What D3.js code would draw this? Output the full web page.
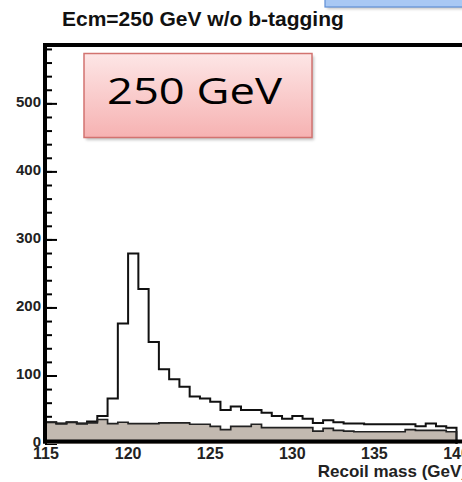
<html>
<script src="https://d3js.org/d3.v7.min.js"></script>
<body style="margin:0; background:#fff;">
<svg width="462" height="482"></svg>
<script>

// recoil mass bins (lower edges, GeV), 0.625 GeV wide
var binLow = d3.range(115, 140, 0.625);
var binWidth = 0.625;

// signal + background (open histogram)
var totalCounts = [32, 30, 32, 30, 33, 41, 67, 177, 280, 228,
                   150, 110, 95, 84, 70, 67, 62, 50, 55, 50,
                   50, 46, 41, 37, 41, 37, 31, 35, 32, 30,
                   30, 29, 29, 29, 29, 29, 26, 30, 26, 24];

// background only (filled histogram)
var backgroundCounts = [32, 30, 32, 30, 31, 36, 30, 32, 30, 30,
                        30, 31, 31, 31, 29, 29, 26, 21, 26, 26,
                        29, 24, 24, 24, 24, 24, 19, 23, 20, 19,
                        18, 18, 18, 18, 18, 21, 20, 20, 20, 18];

var xTickValues = [115, 120, 125, 130, 135, 140];
var yTickValues = [0, 100, 200, 300, 400, 500];
var yMinorTicks = d3.range(0, 590, 20);

var svg = d3.select('svg');
var x = d3.scaleLinear().domain([115, 140]).range([46, 456.5]);
var y = d3.scaleLinear().domain([0, 588]).range([444, 44]);

var defs = svg.append('defs');
var grad = defs.append('linearGradient').attr('id', 'pink').attr('x1', 0).attr('y1', 0).attr('x2', 0).attr('y2', 1);
grad.append('stop').attr('offset', '0%').attr('stop-color', '#fde6e6');
grad.append('stop').attr('offset', '100%').attr('stop-color', '#f6b2b2');
var blur = defs.append('filter').attr('id', 'shadow').attr('x', '-20%').attr('y', '-20%').attr('width', '140%').attr('height', '140%');
blur.append('feGaussianBlur').attr('stdDeviation', 1.5);

// title
svg.append('text')
    .attr('x', 62).attr('y', 26)
    .style('font-family', 'Liberation Sans, Arial, sans-serif')
    .style('font-weight', 'bold')
    .style('font-size', '21px')
    .attr('fill', '#111')
    .text('Ecm=250 GeV w/o b-tagging');

// blue box cut at the top right
svg.append('rect').attr('x', 327).attr('y', -20).attr('width', 150).attr('height', 29)
    .attr('fill', '#888').attr('opacity', 0.5).attr('filter', 'url(#shadow)');
svg.append('rect').attr('x', 325).attr('y', -20).attr('width', 150).attr('height', 27)
    .attr('fill', '#a8c8f4').attr('stroke', '#5f8fd6').attr('stroke-width', 1.2);

// y axis ticks (inside the frame)
var axisG = svg.append('g');
axisG.selectAll('line.minor')
    .data(yMinorTicks)
    .join('line')
    .attr('class', 'minor')
    .attr('x1', 45).attr('x2', 52)
    .attr('y1', d => y(d)).attr('y2', d => y(d))
    .attr('stroke', '#000').attr('stroke-width', 2);
axisG.selectAll('line.major')
    .data(yTickValues)
    .join('line')
    .attr('class', 'major')
    .attr('x1', 45).attr('x2', 57)
    .attr('y1', d => y(d)).attr('y2', d => y(d))
    .attr('stroke', '#000').attr('stroke-width', 2);
axisG.selectAll('text.ylab')
    .data(yTickValues)
    .join('text')
    .attr('class', 'ylab')
    .attr('x', 41).attr('y', d => y(d) - 2)
    .attr('dy', '0.35em')
    .attr('text-anchor', 'end')
    .style('font-family', 'Liberation Sans, Arial, sans-serif')
    .style('font-weight', 'bold')
    .style('font-size', '15px')
    .attr('fill', '#222')
    .text(d => d);

// histograms as step outlines
function stepPath(counts) {
    var pts = [[x(binLow[0]), y(0)]];
    counts.forEach(function(c, i) {
        pts.push([x(binLow[i]), y(c)]);
        pts.push([x(binLow[i] + binWidth), y(c)]);
    });
    pts.push([x(binLow[counts.length - 1] + binWidth), y(0)]);
    return d3.line()(pts);
}

svg.append('path')
    .attr('d', stepPath(backgroundCounts) + 'Z')
    .attr('fill', '#c2b9b0')
    .attr('stroke', 'none');
svg.append('path')
    .attr('d', stepPath(totalCounts))
    .attr('fill', 'none')
    .attr('stroke', '#111')
    .attr('stroke-width', 2);
svg.append('path')
    .attr('d', stepPath(backgroundCounts))
    .attr('fill', 'none')
    .attr('stroke', '#222')
    .attr('stroke-width', 1.7);

// frame
svg.append('line').attr('x1', 43).attr('x2', 462).attr('y1', 45).attr('y2', 45)
    .attr('stroke', '#000').attr('stroke-width', 4);
svg.append('line').attr('x1', 45).attr('x2', 45).attr('y1', 43).attr('y2', 443.5)
    .attr('stroke', '#000').attr('stroke-width', 4);
svg.append('line').attr('x1', 43).attr('x2', 462).attr('y1', 441.5).attr('y2', 441.5)
    .attr('stroke', '#000').attr('stroke-width', 4);

// x labels
svg.selectAll('text.xlab')
    .data(xTickValues)
    .join('text')
    .attr('class', 'xlab')
    .attr('x', d => x(d)).attr('y', 459)
    .attr('text-anchor', 'middle')
    .style('font-family', 'Liberation Sans, Arial, sans-serif')
    .style('font-weight', 'bold')
    .style('font-size', '16px')
    .attr('fill', '#222')
    .text(d => d);

svg.append('text')
    .attr('x', 467).attr('y', 477)
    .attr('text-anchor', 'end')
    .style('font-family', 'Liberation Sans, Arial, sans-serif')
    .style('font-weight', 'bold')
    .style('font-size', '17px')
    .attr('fill', '#222')
    .text('Recoil mass (GeV)');

// red label box
svg.append('rect').attr('x', 86).attr('y', 56).attr('width', 228).attr('height', 84)
    .attr('fill', '#777').attr('opacity', 0.45).attr('filter', 'url(#shadow)');
svg.append('rect').attr('x', 84).attr('y', 53.5).attr('width', 228).attr('height', 84)
    .attr('fill', 'url(#pink)').attr('stroke', '#d27370').attr('stroke-width', 1.5);
svg.append('text')
    .attr('x', 107).attr('y', 103.5)
    .attr('textLength', 175).attr('lengthAdjust', 'spacingAndGlyphs')
    .style('font-family', 'Open Sans, Noto Sans, sans-serif')
    .style('font-size', '37px')
    .attr('fill', '#000')
    .text('250 GeV');
</script>
</body>
</html>
